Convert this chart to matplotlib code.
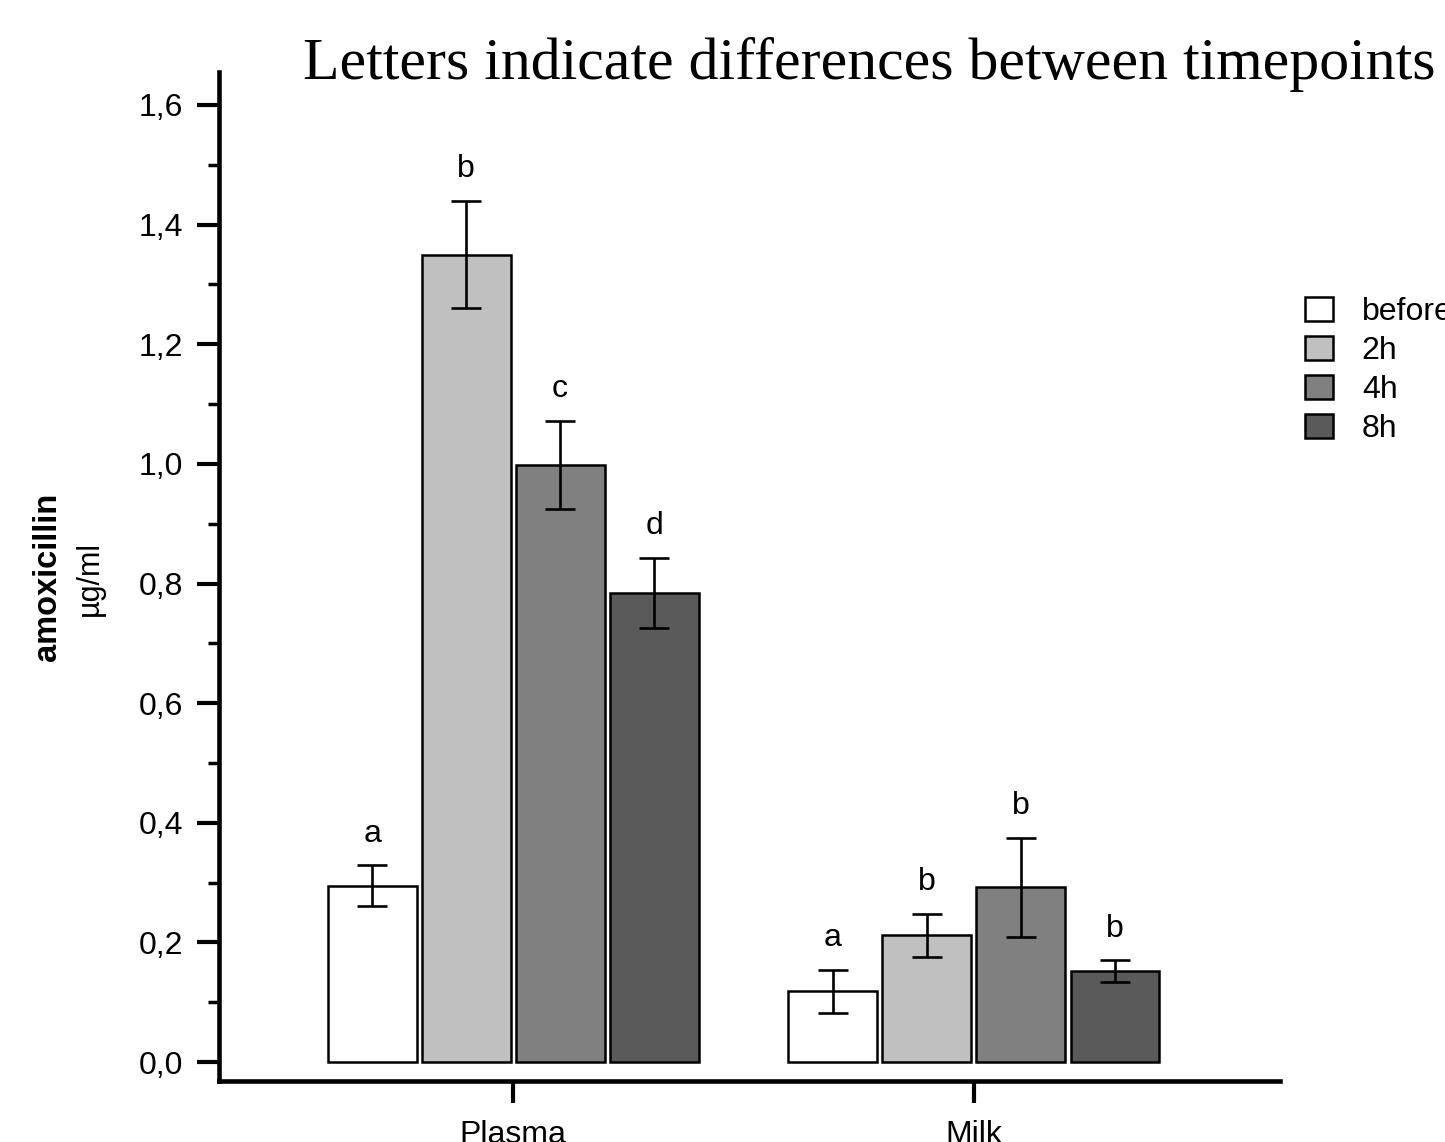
import numpy as np
import matplotlib
matplotlib.use("Agg")
import matplotlib.pyplot as plt
from matplotlib.ticker import MultipleLocator

plt.rcParams['font.family'] = ['Liberation Sans', 'DejaVu Sans']

groups = ["Plasma", "Milk"]
timepoints = ["before", "2h", "4h", "8h"]
colors = ["#ffffff", "#c0c0c0", "#808080", "#5a5a5a"]

# mean and error per timepoint: [Plasma, Milk]
means = {
    "before": [0.295, 0.118],
    "2h": [1.350, 0.212],
    "4h": [0.998, 0.292],
    "8h": [0.784, 0.152],
}
errors = {
    "before": [0.034, 0.036],
    "2h": [0.090, 0.036],
    "4h": [0.074, 0.083],
    "8h": [0.059, 0.018],
}
letters = {
    "before": ["a", "a"],
    "2h": ["b", "b"],
    "4h": ["c", "b"],
    "8h": ["d", "b"],
}
yticks = [0.0, 0.2, 0.4, 0.6, 0.8, 1.0, 1.2, 1.4, 1.6]
ytick_labels = ["0,0", "0,2", "0,4", "0,6", "0,8", "1,0", "1,2", "1,4", "1,6"]

fig = plt.figure(figsize=(14.45, 11.42), dpi=100)
ax = fig.add_axes([0.1516, 0.0534, 0.7342, 0.8835])

x = np.arange(len(groups))
width = 0.193
step = 0.204
for i, tp in enumerate(timepoints):
    pos = x + (i - 1.5) * step
    ax.bar(pos, means[tp], width, color=colors[i], edgecolor='black',
           linewidth=1.8, label=tp, zorder=2)
    ax.errorbar(pos, means[tp], yerr=errors[tp], fmt='none', ecolor='black',
                elinewidth=1.9, capsize=11, capthick=1.9, zorder=3)
    for j in range(len(groups)):
        ax.annotate(letters[tp][j], (pos[j], means[tp][j] + errors[tp][j]),
                    xytext=(0, 17), textcoords='offset points',
                    ha='center', va='baseline', fontsize=23)

ax.set_xlim(-0.638, 1.664)
ax.set_ylim(-0.0317, 1.655)
ax.set_yticks(yticks, ytick_labels)
ax.yaxis.set_minor_locator(MultipleLocator(0.1))
ax.set_xticks(x, groups)

for side in ['top', 'right']:
    ax.spines[side].set_visible(False)
for side in ['left', 'bottom']:
    ax.spines[side].set_linewidth(3.3)
ax.tick_params(axis='both', which='major', direction='out', length=16,
               width=3, labelsize=23, pad=10)
ax.tick_params(axis='y', which='minor', direction='out', length=8, width=2.5)
ax.tick_params(axis='x', pad=12)

fig.text(0.0332, 0.495, "amoxicillin", rotation=90, ha='center', va='center',
         fontsize=23.5, fontweight='bold')
fig.text(0.0623, 0.493, "µg/ml", rotation=90, ha='center', va='center',
         fontsize=22)

fig.text(303 / 1445, 1 - 79 / 1142, "Letters indicate differences between timepoints",
         family='Liberation Serif', fontsize=43, ha='left', va='baseline')

fig.legend(loc='upper left', bbox_to_anchor=(1305 / 1445, 1 - 297 / 1142),
           frameon=False, fontsize=23, handlelength=0.88, handleheight=0.78,
           handletextpad=0.9, labelspacing=0.28, borderaxespad=0, borderpad=0)

fig.savefig("out.png", dpi=100)
